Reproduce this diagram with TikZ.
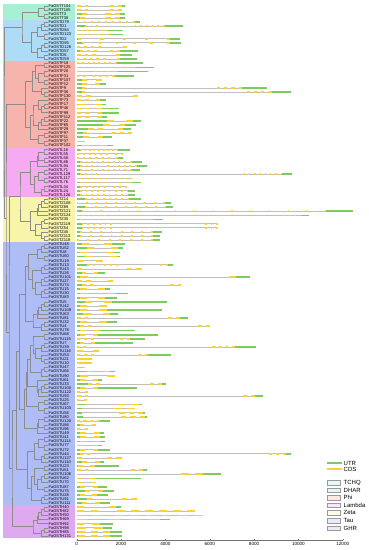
\documentclass[tikz,border=0pt]{standalone}
\usepackage{fontspec}
\setmainfont{Liberation Sans}
\usepackage{xcolor}
\usetikzlibrary{calc}

\definecolor{cTCHQ}{HTML}{A8F0D4}
\definecolor{cDHAR}{HTML}{AEDCF6}
\definecolor{cPhi}{HTML}{F7B4AC}
\definecolor{cLambda}{HTML}{F5AAF2}
\definecolor{cZeta}{HTML}{F8F4AA}
\definecolor{cTau}{HTML}{AFBDF6}
\definecolor{cGHR}{HTML}{DDAAF0}
\definecolor{utrgreen}{HTML}{7CCB5E}
\definecolor{cdsyellow}{HTML}{FFD12E}

% subtree over tips #1..#2, node named t#1-#2
\newcommand\clade[2]{%
  \ifnum#1<#2\relax
  \begingroup
    \pgfmathtruncatemacro\csplit{#1+int((#2-#1)*(0.2+0.6*abs(sin(#1*71+#2*37))))}%
    \pgfmathtruncatemacro\cnext{\csplit+1}%
    \pgfmathsetmacro\cxpos{49.5-5.5*ln(#2-#1+1)/ln(2)}%
    \edef\cladenext{\noexpand\clade{#1}{\csplit}\noexpand\clade{\cnext}{#2}}\cladenext
    \path let \p1=(t#1-\csplit), \p2=(t\cnext-#2) in (\cxpos,{(\y1+\y2)/2}) coordinate (t#1-#2);
    \draw[branch] (t#1-\csplit) -| (t#1-#2) |- (t\cnext-#2);
  \endgroup
  \fi}

\newcommand\joinclades[4]{%
  \path let \p1=(#1), \p2=(#2) in (#4,{(\y1+\y2)/2}) coordinate (#3);
  \draw[branch] (#1) -| (#3) |- (#2);}

% row, length, exons, 5'UTR, 3'UTR, first cluster, exon width
\newcommand\drawgene[7]{%
  \pgfmathsetmacro\gy{5.8+(#1-1)*4.11}%
  \pgfmathsetmacro\gspan{#2-#4-#5}%
  \pgfmathsetmacro\gw{#7>0 ? #7 : (#3==1 ? \gspan : min(700/#3,0.55*\gspan/#3))}%
  \pgfmathsetmacro\gev{(\gspan-\gw)/max(#3-1,1)}%
  \pgfmathsetmacro\gp{min(max(1.8*\gw,\gw+180),\gev)}%
  \pgfmathtruncatemacro\glast{#3-1}%
  \draw[intron] (0,\gy) -- (#2,\gy);
  \ifnum#4>0\relax \fill[utr] (0,\gy-0.9) rectangle (#4,\gy+0.9);\fi
  \ifnum#5>0\relax \fill[utr] ({#2-#5},\gy-0.9) rectangle (#2,\gy+0.9);\fi
  \foreach \k in {0,...,\glast}{%
    \pgfmathsetmacro\gs{#6<0 ? #4+\k*\gev : (\k<#6 ? #4+\k*\gp : #2-#5-\gw-(#3-1-\k)*\gp)}%
    \fill[cds] (\gs,\gy-0.9) rectangle ({\gs+\gw},\gy+0.9);
  }}

\begin{document}
\begin{tikzpicture}[x=1pt, y=-1pt,
    branch/.style={draw=black!45, line width=0.35pt},
    gname/.style={anchor=west, inner sep=0pt, font=\fontsize{4}{4}\selectfont},
    intron/.style={draw=black!25, line width=0.6pt},
    utr/.style={fill=utrgreen},
    cds/.style={fill=cdsyellow},
    legbox/.style={draw=black!40, line width=0.3pt},
    legtxt/.style={anchor=west, inner sep=0pt, font=\fontsize{6}{6}\selectfont},
    tick/.style={anchor=north, inner sep=0pt, font=\fontsize{4.6}{5}\selectfont}]
    \useasboundingbox (0,0) rectangle (368,550);

    % clade bands
    \foreach \c/\f/\l in {cTCHQ/1/4, cDHAR/5/14, cPhi/15/35, cLambda/36/47, cZeta/48/58, cTau/59/122, cGHR/123/130}
        \fill[\c] (3.3,{5.8+(\f-1.5)*4.11}) rectangle (74.5,{5.8+(\l-0.5)*4.11});

    % tips and gene names
    \foreach \nm [count=\r] in {FaGSTT104,FaGSTT105,FaGSTT3,FaGSTT38,
        FaGSTD79,FaGSTD1,FaGSTD84,FaGSTD123,FaGSTD2,FaGSTD95,FaGSTD128,FaGSTD57,FaGSTD6,FaGSTD59,
        FaGSTF18,FaGSTF125,FaGSTF20,FaGSTF31,FaGSTF107,FaGSTF12,FaGSTF9,FaGSTF36,FaGSTF130,FaGSTF73,FaGSTF17,
        FaGSTF46,FaGSTF99,FaGSTF112,FaGSTF22,FaGSTF65,FaGSTF29,FaGSTF97,FaGSTF11,FaGSTF37,FaGSTF102,
        FaGSTL16,FaGSTL55,FaGSTL58,FaGSTL88,FaGSTL94,FaGSTL71,FaGSTL129,FaGSTL117,FaGSTL76,FaGSTL34,FaGSTL24,FaGSTL126,
        FaGSTZ14,FaGSTZ108,FaGSTZ89,FaGSTZ121,FaGSTZ124,FaGSTZ35,FaGSTZ119,FaGSTZ54,FaGSTZ45,FaGSTZ113,FaGSTZ118,
        FaGSTU48,FaGSTU52,FaGSTU8,FaGSTU60,FaGSTU19,FaGSTU13,FaGSTU43,FaGSTU26,
        FaGSTU101,FaGSTU27,FaGSTU74,FaGSTU15,FaGSTU30,FaGSTU83,FaGSTU5,FaGSTU42,
        FaGSTU109,FaGSTU63,FaGSTU81,FaGSTU32,FaGSTU4,FaGSTU78,FaGSTU68,FaGSTU115,
        FaGSTU7,FaGSTU39,FaGSTU116,FaGSTU53,FaGSTU21,FaGSTU10,FaGSTU47,FaGSTU66,
        FaGSTU90,FaGSTU61,FaGSTU33,FaGSTU100,FaGSTU122,FaGSTU93,FaGSTU25,FaGSTU67,
        FaGSTU103,FaGSTU56,FaGSTU80,FaGSTU120,FaGSTU86,FaGSTU96,FaGSTU49,FaGSTU41,
        FaGSTU114,FaGSTU77,FaGSTU72,FaGSTU44,FaGSTU127,FaGSTU110,FaGSTU23,FaGSTU51,
        FaGSTU106,FaGSTU62,FaGSTU70,FaGSTU87,FaGSTU75,FaGSTU28,FaGSTU91,FaGSTU111,
        FaGSTH40,FaGSTH82,FaGSTH50,FaGSTH69,FaGSTH92,FaGSTH98,FaGSTH85,FaGSTH131}{
        \coordinate (t\r-\r) at (48,{5.8+(\r-1)*4.11});
        \node[gname] (g\r) at (48.4,{5.8+(\r-1)*4.11}) {\nm};
    }

    % tree
    \clade{1}{4}
    \clade{5}{14}
    \clade{15}{35}
    \clade{36}{47}
    \clade{48}{58}
    \clade{59}{122}
    \clade{123}{130}
    \joinclades{t1-4}{t5-14}{a1}{22}
    \joinclades{t36-47}{t48-58}{a2}{20}
    \joinclades{t59-122}{t123-130}{a3}{12}
    \joinclades{a2}{a3}{a4}{9}
    \joinclades{t15-35}{a4}{a5}{6}
    \joinclades{a1}{a5}{root}{4}

    % gene structures, in bp
    \begin{scope}[xshift=76.7pt, x=0.022167pt]
        \foreach \gL/\gn/\gu/\gv/\gc/\gwd [count=\r] in {
            2175/4/0/150/2/0, 2025/4/0/0/2/0, 2175/3/225/225/1/0, 2175/3/150/225/1/0,
            2850/9/0/225/-1/0, 4800/9/375/825/3/0, 2070/7/0/650/-1/0, 2100/7/0/650/-1/0, 4650/5/75/450/-1/0,
            4725/6/225/525/-1/0, 2250/5/0/0/4/0, 2775/5/150/825/3/0, 2475/4/0/525/3/0, 2700/6/0/750/5/0,
            2970/8/0/1170/2/0, 3500/8/0/870/1/0, 3225/6/0/1425/2/0, 2580/6/0/850/2/0, 1125/2/225/0/1/0,
            1320/2/225/270/1/0, 8570/5/225/1130/1/0, 9650/5/225/860/1/0, 2775/3/0/0/2/0, 1320/3/0/270/2/0,
            1320/2/75/195/1/0, 1920/3/0/795/2/0, 1920/3/0/795/2/0, 1380/3/0/255/2/0, 2880/2/1350/330/1/0,
            2670/2/1200/495/1/0, 2430/3/525/330/2/0, 2475/4/300/0/1/0, 1575/2/300/375/1/0, 375/1/0/0/1/0,
            1650/2/225/300/1/0,
            2400/9/150/525/7/0, 2070/8/0/0/6/0, 2070/7/0/195/6/0, 2925/10/150/450/4/0, 3150/10/150/450/4/0,
            2850/10/150/375/4/0, 9710/12/150/450/4/0, 2520/9/0/0/6/0, 2895/9/150/400/6/0, 2280/8/150/0/5/0,
            2625/9/150/300/6/0, 2625/9/150/300/6/0,
            2880/8/375/500/-1/0, 4275/10/0/300/-1/0, 4350/9/375/300/-1/0, 12450/14/225/1200/-1/0,
            10470/10/0/345/6/0, 3900/9/150/450/-1/0, 6375/9/225/0/6/0, 6375/9/225/0/6/0, 3825/8/150/375/-1/0,
            3750/8/150/300/-1/0, 3750/8/0/300/-1/0,
            2175/2/225/600/1/0, 2070/2/450/195/1/0, 1950/2/150/300/1/0, 1950/2/375/150/1/0, 1200/2/0/0/1/0,
            4350/8/450/225/6/0, 2925/3/0/0/1/0, 1275/2/225/300/1/0, 7800/2/150/600/1/0, 1650/3/0/0/2/0,
            4725/4/225/0/2/0, 1500/2/150/225/1/0, 2325/2/150/600/1/0, 1800/2/150/525/1/0, 4080/2/375/2500/1/0,
            1350/2/150/0/1/0, 3825/2/150/2475/1/0, 1875/2/300/375/1/0, 5025/4/0/375/2/0, 1800/2/150/450/1/0,
            6000/4/150/0/2/0, 2625/2/150/1575/1/0, 3675/2/150/2700/1/0, 3075/5/0/675/3/0, 2550/2/150/1725/1/0,
            8100/6/0/975/2/0, 1020/2/0/0/1/0, 4275/5/0/1050/3/0, 675/1/0/0/1/0, 675/1/0/0/1/0,
            375/2/0/0/1/0, 1725/2/450/225/1/0, 1725/2/150/0/1/0, 1125/2/150/150/1/0, 4050/4/525/225/2/0,
            2700/2/150/1725/1/0, 525/2/0/0/1/0, 8400/4/0/375/2/0, 450/2/0/0/1/0, 2925/2/375/75/0/0,
            2625/2/225/0/0/0, 3075/3/225/75/0/0, 3180/3/300/105/0/0, 1500/4/0/450/-1/0, 870/2/150/0/1/0,
            525/2/0/0/1/0, 1230/2/150/180/1/0, 1275/2/150/225/1/0, 1275/2/150/225/1/0, 1155/2/0/180/1/0,
            1500/2/150/525/1/0, 9675/5/150/225/2/0, 2025/3/0/0/1/0, 1230/2/225/180/1/0, 1920/2/75/1095/1/0,
            3180/4/0/180/2/0, 6525/2/0/825/0/0, 2880/2/0/2055/1/0, 870/2/0/0/1/0, 1380/2/150/405/1/0,
            1680/2/375/480/1/0, 1425/2/150/525/1/0, 2700/3/450/0/1/0, 1500/2/225/450/1/0,
            2020/2/0/225/1/0, 5330/8/0/0/2/350, 5700/8/0/0/2/400, 4200/4/0/450/1/500, 1650/2/0/600/1/350,
            1575/2/0/375/1/400, 2025/3/75/525/1/300, 2025/3/75/525/1/300}{
            \drawgene{\r}{\gL}{\gn}{\gu}{\gv}{\gc}{\gwd}
        }

        % scale
        \draw[black!55, line width=0.4pt] (0,540) -- (12000,540);
        \foreach \t in {0,2000,...,12000}{
            \draw[black!55, line width=0.4pt] (\t,540) -- (\t,538.6);
            \node[tick] (k\t) at (\t,541.8) {\t};
        }
    \end{scope}

    % legend
    \draw[utrgreen, line width=2pt] (327,463) -- (342,463);
    \node[legtxt] (lutr) at (343.5,463) {UTR};
    \draw[cdsyellow, line width=2pt] (327,469) -- (342,469);
    \node[legtxt] (lcds) at (343.5,469) {CDS};
    \foreach \c [count=\k] in {TCHQ,DHAR,Phi,Lambda,Zeta,Tau,GHR}{
        \draw[legbox, fill=c\c!30] (327,{482.5+(\k-1)*7.6-2.3}) rectangle (340,{482.5+(\k-1)*7.6+2.3});
        \node[legtxt] (l\c) at (343.5,{482.5+(\k-1)*7.6}) {\c};
    }
\end{tikzpicture}
\end{document}
